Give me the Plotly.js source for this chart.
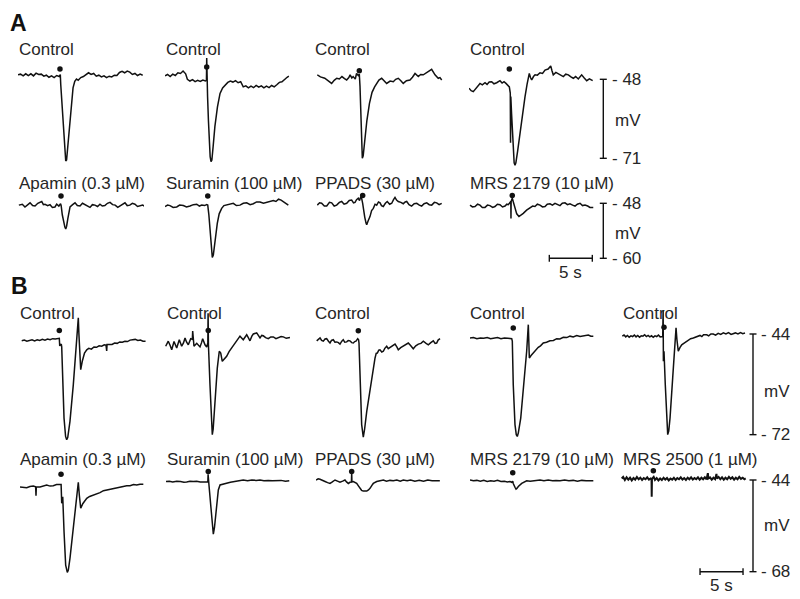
<!DOCTYPE html>
<html><head><meta charset="utf-8">
<script src="https://cdn.plot.ly/plotly-3.0.1.min.js"></script>
<style>html,body{margin:0;padding:0;background:#fff}#chart{width:800px;height:599px}</style>
</head><body><div id="chart"></div>
<script>
// ---------------- DATA (time in s, membrane potential in mV) ----------------
// Panel A, row 1 (Control)
const tA1c1=[0,0.3,0.6,0.9,1.2,1.5,1.8,2.1,2.4,2.7,3.0,3.3,3.6,3.9,4.2,4.5,4.8,4.92,4.97,5.05,5.15,5.3,5.45,5.55,5.65,5.8,6.0,6.2,6.4,6.6,6.8,7.0,7.3,7.6,7.9,8.2,8.5,8.8,9.1,9.4,9.7,10.0,10.3,10.6,10.9,11.2,11.5,11.8,12.1,12.4,12.7,13.0,13.3,13.6,13.9,14.2,14.5];
const vA1c1=[-46.7,-46.5,-47.0,-46.4,-46.9,-46.4,-47.0,-46.2,-46.6,-46.5,-47.1,-46.8,-47.4,-47.0,-47.5,-46.9,-47.2,-46.6,-49.5,-52.5,-57.5,-63.5,-69.5,-71.8,-71.5,-67.5,-60.5,-54.5,-50.5,-48.6,-47.9,-48.3,-47.5,-47.2,-46.5,-46.1,-46.6,-46.3,-47.1,-46.8,-47.3,-47.0,-47.5,-47.1,-47.3,-46.8,-46.9,-46.0,-45.7,-46.1,-45.6,-45.9,-46.6,-46.3,-46.9,-46.5,-46.8];
const tA1c2=[0,0.3,0.6,0.9,1.2,1.5,1.8,2.1,2.4,2.6,2.9,3.2,3.5,3.8,4.1,4.4,4.7,4.82,4.85,4.88,4.95,5.05,5.15,5.25,5.35,5.45,5.6,5.8,6.1,6.4,6.7,7.0,7.3,7.6,7.9,8.2,8.5,8.8,9.1,9.4,9.7,10.0,10.3,10.6,10.9,11.2,11.5,11.8,12.1,12.4,12.7,13.0,13.3,13.6,13.9,14.2,14.4];
const vA1c2=[-47.0,-46.6,-47.2,-46.5,-46.9,-46.1,-46.3,-45.6,-46.4,-48.0,-48.5,-48.1,-48.7,-48.3,-48.6,-48.2,-48.5,-48.3,-41.8,-48.5,-53,-60,-66,-70.5,-72.0,-71.5,-67.5,-61.8,-56,-52.1,-50.5,-49.6,-48.9,-48.5,-48.8,-48.4,-49.0,-48.7,-50.2,-49.9,-50.5,-50.0,-50.4,-49.8,-50.3,-49.9,-50.5,-50.0,-50.4,-49.8,-50.2,-49.6,-48.9,-48.7,-47.9,-47.4,-47.1];
const tA1c3=[0.03,0.4,0.9,1.3,1.7,2.0,2.3,2.6,2.9,3.2,3.45,3.7,3.85,4.05,4.2,4.45,4.6,4.8,4.92,5.0,5.08,5.17,5.27,5.37,5.55,5.8,6.1,6.4,6.7,6.94,7.2,7.52,7.8,8.1,8.5,8.87,9.15,9.45,9.75,10.03,10.4,10.81,11.1,11.4,11.78,12.05,12.36,12.65,12.94,13.33,13.6,13.72,14.1,14.3,14.5];
const vA1c3=[-46.7,-47.3,-47.7,-48.5,-49.2,-48.3,-47.7,-47.9,-47.2,-47.8,-48.2,-47.5,-46.7,-47.6,-47.2,-47.9,-46.3,-46.9,-46.5,-50,-58,-66,-71.0,-70.3,-66,-60,-55,-51.8,-50.2,-49.2,-48.2,-47.7,-48.3,-49.2,-48.5,-48.7,-48.0,-47.7,-48.4,-49.2,-48.4,-48.2,-47.4,-46.3,-47.2,-46.6,-46.7,-46.2,-45.8,-45.1,-46.2,-46.7,-47.7,-47.5,-48.2];
const tA1c4=[0,0.25,0.5,0.8,1.05,1.28,1.55,1.86,2.1,2.35,2.64,2.9,3.22,3.4,3.6,3.85,4.07,4.3,4.57,4.69,4.8,4.83,4.86,4.95,5.05,5.15,5.25,5.35,5.45,5.65,5.93,6.2,6.51,6.75,7.01,7.15,7.29,7.5,7.68,7.95,8.26,8.55,8.84,9.2,9.5,9.65,9.8,10.1,10.38,10.65,10.97,11.25,11.55,11.85,12.13,12.4,12.71,12.9,13.1,13.4,13.69,14.0,14.38];
const vA1c4=[-50.6,-51.3,-51.6,-50.6,-49.9,-49.2,-49.6,-49.0,-49.5,-48.8,-48.7,-49.3,-49.0,-48.6,-48.4,-49.1,-48.7,-49.2,-50.0,-50.2,-52,-66.5,-53,-58,-64,-69.5,-72.3,-73.0,-72.3,-69,-63.7,-58,-53.1,-49.5,-46.3,-47.5,-48.2,-47.2,-46.7,-46.8,-46.1,-46.3,-45.3,-45.0,-44.1,-45.5,-46.7,-46.0,-46.4,-46.9,-47.2,-46.5,-46.7,-47.3,-47.7,-47.2,-47.9,-47.3,-46.7,-47.6,-48.4,-47.9,-48.4];
// Panel A, row 2 (antagonists)
const tA2c1=[0.1,0.5,0.81,1.1,1.4,1.7,1.98,2.3,2.76,2.95,3.14,3.45,3.72,4.0,4.3,4.5,4.75,4.95,5.02,5.15,5.3,5.45,5.55,5.65,5.8,5.95,6.05,6.35,6.63,6.9,7.21,7.5,7.79,8.1,8.37,8.65,8.95,9.25,9.53,9.8,10.1,10.4,10.7,11.0,11.3,11.6,11.86,12.15,12.44,12.7,13.0,13.3,13.6,13.9,14.19,14.5,14.69];
const vA2c1=[-48.4,-48.2,-48.8,-48.3,-47.9,-48.5,-48.6,-48.0,-47.6,-48.3,-48.2,-48.5,-48.3,-48.9,-48.8,-48.2,-48.6,-48.1,-48.5,-50.5,-52.0,-53.2,-53.6,-53.0,-51.3,-49.6,-48.8,-48.3,-47.9,-48.5,-48.6,-48.0,-48.3,-48.8,-48.9,-48.3,-48.4,-48.7,-48.2,-48.6,-48.5,-48.0,-47.8,-48.3,-48.4,-48.9,-48.6,-48.1,-47.9,-48.5,-48.4,-48.0,-48.2,-48.7,-48.5,-48.4,-48.6];
const tA2c2=[0,0.3,0.58,0.95,1.36,1.7,2.13,2.5,2.91,3.3,3.69,4.0,4.27,4.6,4.85,4.97,5.1,5.23,5.38,5.5,5.62,5.81,6.08,6.3,6.59,6.85,7.17,7.55,7.94,8.3,8.72,9.1,9.5,9.9,10.27,10.65,11.05,11.45,11.83,12.2,12.6,12.9,13.2,13.5,13.76,14.05,14.34];
const vA2c2=[-48.7,-48.4,-48.5,-48.9,-48.8,-48.4,-48.5,-48.8,-48.6,-48.3,-48.2,-48.6,-48.4,-48.5,-48.3,-48.4,-50.5,-53.8,-57.5,-59.8,-59.3,-56.0,-52.4,-50.3,-49.1,-48.5,-48.4,-48.2,-48.0,-48.5,-48.4,-48.0,-47.9,-48.3,-48.1,-47.7,-47.7,-48.0,-47.8,-47.5,-47.4,-47.6,-47.1,-47.3,-47.7,-48.1,-48.4];
const tA2c3=[0.03,0.3,0.54,0.85,1.13,1.45,1.71,2.0,2.29,2.6,2.87,3.15,3.45,3.75,4.03,4.25,4.42,4.6,4.8,4.95,5.08,5.2,5.31,5.38,5.55,5.7,5.78,5.95,6.16,6.35,6.55,6.75,6.94,7.15,7.33,7.5,7.71,7.95,8.17,8.45,8.69,8.9,9.07,9.25,9.45,9.75,10.03,10.25,10.43,10.7,11.0,11.3,11.6,11.9,12.17,12.45,12.76,13.05,13.34,13.65,13.92,14.2,14.5];
const vA2c3=[-48.4,-47.9,-48.0,-48.6,-48.6,-47.8,-47.9,-48.6,-48.4,-47.8,-47.6,-48.2,-48.0,-47.4,-47.3,-47.9,-47.8,-47.2,-46.9,-47.4,-46.6,-47.0,-48.0,-49.1,-51.0,-52.3,-52.7,-51.8,-50.9,-49.6,-49.1,-48.2,-48.4,-47.7,-47.9,-48.5,-48.7,-48.0,-47.6,-48.2,-48.0,-47.2,-46.7,-47.3,-47.6,-47.8,-48.1,-47.7,-47.6,-48.3,-48.6,-48.1,-48.0,-48.4,-48.6,-48.1,-47.9,-48.3,-48.4,-47.8,-47.9,-48.3,-48.0];
const tA2c4=[0.12,0.4,0.7,1.0,1.28,1.55,1.86,2.15,2.44,2.75,3.02,3.3,3.6,3.9,4.19,4.4,4.57,4.75,4.86,4.88,4.9,5.03,5.2,5.35,5.55,5.81,6.05,6.31,6.7,7.09,7.4,7.67,7.95,8.26,8.55,8.84,9.1,9.42,9.7,10.0,10.3,10.58,10.85,11.16,11.45,11.74,12.05,12.33,12.6,12.91,13.2,13.49,13.8,14.07,14.45];
const vA2c4=[-48.4,-48.8,-48.7,-48.2,-48.4,-48.9,-48.9,-48.4,-48.5,-48.9,-48.7,-48.2,-48.3,-48.8,-48.6,-48.2,-48.3,-47.9,-47.6,-51.3,-47.6,-46.9,-47.9,-49.1,-50.3,-50.9,-50.6,-50.2,-49.5,-49.1,-48.6,-48.7,-48.2,-48.4,-48.8,-48.7,-48.2,-48.1,-48.4,-48.0,-48.3,-48.5,-48.0,-47.9,-48.3,-48.1,-48.4,-48.6,-48.2,-48.0,-48.5,-48.4,-48.6,-48.9,-48.9];
// Panel B, row 1 (Control)
const tB1c1=[0.2,0.5,0.8,1.1,1.4,1.7,2.0,2.3,2.6,2.9,3.2,3.5,3.8,4.1,4.45,4.57,4.62,4.72,4.8,4.85,4.97,5.12,5.3,5.43,5.55,5.81,6.2,6.59,6.74,6.78,6.85,6.95,7.06,7.25,7.5,7.76,8.0,8.3,8.6,8.9,9.2,9.5,9.8,10.0,10.08,10.12,10.4,10.7,11.0,11.3,11.6,11.9,12.2,12.5,12.8,13.14,13.4,13.7,14.0,14.3,14.6];
const vB1c1=[-45.9,-45.7,-46.0,-45.8,-45.6,-45.9,-45.6,-45.8,-45.5,-45.7,-45.4,-45.6,-45.3,-45.4,-45.1,-45.2,-47.3,-47.0,-46.8,-47.6,-58.1,-67.4,-72.5,-73.4,-72.8,-68.3,-58.1,-47.0,-42,-39.5,-44,-50,-53.9,-51.5,-49.3,-48.4,-48.0,-48.2,-47.6,-47.7,-47.3,-47.4,-47.0,-47.1,-48.7,-46.9,-46.8,-46.9,-46.5,-46.6,-46.2,-46.3,-46.0,-46.1,-45.7,-45.6,-45.5,-45.8,-45.7,-46.0,-46.0];
const tB1c2=[0.08,0.38,0.6,0.78,1.05,1.2,1.36,1.66,1.94,2.15,2.33,2.5,2.71,2.99,3.18,3.22,3.27,3.37,3.69,3.9,4.07,4.25,4.38,4.65,4.85,4.98,5.01,5.05,5.23,5.4,5.5,5.6,5.81,6.08,6.31,6.48,6.66,6.9,7.17,7.45,7.76,8.05,8.34,8.5,8.72,9.1,9.3,9.5,9.7,9.88,10.1,10.27,10.66,10.85,11.05,11.25,11.43,11.7,12.01,12.3,12.6,12.9,13.17,13.5,13.76,14.1,14.53];
const vB1c2=[-47.4,-46.0,-47.2,-48.4,-46.1,-47.0,-47.9,-45.6,-47.4,-46.5,-45.1,-46.2,-47.0,-45.3,-45.5,-43.2,-46.0,-47.4,-46.6,-47.2,-47.6,-46.4,-45.3,-47.0,-47.6,-46.5,-38.2,-47,-58.1,-68.5,-72.0,-70.5,-62.7,-53.5,-48.8,-49.3,-51.6,-51.0,-50.2,-48.9,-47.9,-46.7,-46.0,-45.2,-44.6,-45.6,-44.8,-44.2,-45.1,-45.9,-44.6,-44.0,-43.7,-44.5,-45.1,-44.4,-44.5,-45.0,-45.3,-44.8,-44.8,-45.3,-45.1,-44.7,-44.8,-45.2,-45.0];
const tB1c3=[0.08,0.3,0.47,0.65,0.85,1.05,1.24,1.45,1.63,1.8,2.01,2.2,2.41,2.6,2.79,3.0,3.17,3.35,3.57,3.75,3.95,4.15,4.34,4.5,4.65,4.85,4.95,5.0,5.12,5.31,5.5,5.65,5.9,6.36,6.86,7.0,7.13,7.3,7.44,7.65,7.83,8.0,8.22,8.4,8.6,8.9,9.19,9.4,9.57,9.85,10.15,10.45,10.73,11.0,11.31,11.6,11.9,12.2,12.48,12.8,13.06,13.35,13.64,13.85,14.03,14.2,14.42];
const vB1c3=[-45.9,-45.5,-45.1,-45.8,-46.0,-45.4,-45.3,-46.0,-46.5,-45.8,-45.6,-46.3,-46.2,-46.4,-46.8,-46.0,-45.6,-46.3,-46.2,-45.8,-45.9,-46.4,-46.5,-46.1,-46.0,-45.3,-45.6,-46.5,-58.1,-69.2,-72.7,-70.5,-65.5,-58.1,-50.7,-49.4,-49.3,-48.5,-48.4,-49.0,-48.8,-48.0,-47.4,-48.1,-47.8,-47.4,-46.8,-47.6,-48.4,-47.8,-47.4,-46.9,-46.5,-47.2,-48.1,-47.3,-46.8,-46.6,-46.0,-46.6,-47.0,-46.4,-45.9,-46.6,-46.5,-45.7,-45.3];
const tB1c4=[0,0.4,0.8,1.2,1.6,2.0,2.4,2.8,3.2,3.6,4.0,4.4,4.85,4.92,5.03,5.23,5.38,5.5,5.62,5.9,6.28,6.59,6.7,6.78,6.84,6.9,7.1,7.36,7.65,7.94,8.2,8.52,8.9,9.3,9.7,10.08,10.45,10.85,11.25,11.63,12.0,12.41,12.8,13.17,13.5,13.76,14.05,14.34];
const vB1c4=[-45.1,-45.0,-45.3,-45.1,-45.2,-45.0,-45.3,-45.2,-45.0,-45.3,-45.1,-45.2,-45.3,-46.0,-58.1,-69.2,-72.0,-72.5,-71.5,-67.4,-58.1,-48.8,-44.5,-41.4,-46,-50.7,-50.0,-49.3,-48.4,-47.7,-47.3,-46.5,-46.3,-45.9,-45.8,-45.3,-45.4,-44.9,-45.0,-44.6,-44.8,-44.4,-44.7,-44.6,-44.4,-44.3,-44.6,-44.6];
const tB1c5=[0.15,0.35,0.55,0.75,0.95,1.15,1.35,1.55,1.75,1.95,2.15,2.35,2.55,2.75,2.95,3.15,3.35,3.55,3.75,3.95,4.15,4.35,4.55,4.75,4.85,4.9,4.93,4.96,5.0,5.15,5.31,5.43,5.55,5.7,6.01,6.28,6.4,6.5,6.66,6.85,7.06,7.3,7.64,7.85,8.1,8.41,8.7,9.0,9.19,9.4,9.6,9.97,10.2,10.45,10.73,11.0,11.3,11.6,11.9,12.2,12.5,12.8,13.06,13.3,13.6,13.9,14.15,14.42];
const vB1c5=[-44.6,-44.3,-44.8,-44.4,-44.9,-44.5,-44.7,-44.3,-44.8,-44.4,-44.9,-44.5,-44.6,-44.2,-44.7,-44.4,-44.8,-44.5,-44.9,-44.5,-44.7,-44.3,-44.8,-44.6,-44.7,-37.3,-51.6,-45.5,-48.8,-58.1,-67.4,-72.0,-71.0,-67.4,-56.2,-47.0,-42.3,-45.5,-48.8,-47.8,-47.0,-46.6,-46.0,-45.8,-45.3,-45.1,-44.9,-44.6,-44.4,-44.7,-44.2,-44.2,-44.5,-44.0,-44.0,-44.3,-43.8,-44.1,-43.7,-44.0,-43.6,-44.1,-44.0,-43.7,-44.0,-43.6,-43.9,-43.7];
// Panel B, row 2 (antagonists)
const tB2c1=[0,0.4,0.78,1.15,1.55,1.82,1.86,1.9,2.33,2.7,3.1,3.5,3.87,4.25,4.65,4.78,4.85,4.97,5.12,5.31,5.5,5.62,5.81,6.2,6.59,6.78,6.9,7.06,7.3,7.55,7.76,8.1,8.5,8.92,9.3,9.7,10.08,10.45,10.85,11.24,11.6,12.0,12.41,12.8,13.2,13.57,13.95,14.34];
const vB2c1=[-45.8,-45.9,-46.0,-45.7,-45.6,-45.8,-48.1,-45.8,-45.8,-45.5,-45.3,-45.6,-45.5,-45.2,-45.1,-45.2,-50.1,-48.4,-57.5,-66.3,-68.2,-67.6,-64.5,-55.8,-47.9,-44.6,-48,-51.4,-50.2,-49.3,-48.8,-48.3,-48.0,-47.5,-47.3,-46.8,-46.6,-46.5,-46.2,-46.0,-45.9,-45.6,-45.5,-45.5,-45.2,-45.3,-45.1,-45.1];
const tB2c2=[0.12,0.5,0.9,1.36,1.8,2.2,2.52,2.9,3.3,3.69,4.1,4.65,4.98,5.01,5.05,5.12,5.35,5.5,5.62,5.75,5.93,6.2,6.4,6.8,7.17,7.6,8.1,8.6,9.1,9.6,10.1,10.6,11.05,11.5,12.0,12.5,12.99,13.5,14.0,14.45];
const vB2c2=[-44.4,-44.3,-44.5,-44.3,-44.4,-44.6,-44.5,-44.3,-44.4,-44.3,-44.5,-44.4,-44.5,-42.5,-44.6,-45.5,-51.4,-56.5,-58.2,-56.5,-52.3,-46.6,-45.3,-45.0,-44.9,-44.6,-44.4,-44.2,-44.0,-44.2,-44.0,-44.1,-44.0,-44.2,-44.1,-44.2,-44.2,-44.1,-44.3,-44.2];
const tB2c3=[0,0.25,0.47,0.75,1.05,1.35,1.63,1.9,2.21,2.5,2.79,3.1,3.37,3.55,3.76,3.95,4.12,4.15,4.18,4.34,4.55,4.73,4.95,5.12,5.3,5.5,5.7,5.9,6.1,6.28,6.5,6.66,7.06,7.45,7.83,8.2,8.6,8.99,9.4,9.8,10.15,10.6,11.0,11.5,12.0,12.5,13.0,13.5,14.0,14.4];
const vB2c3=[-44.0,-43.7,-43.8,-44.2,-44.4,-44.7,-44.9,-44.5,-44.0,-44.3,-44.6,-44.3,-44.0,-44.5,-44.9,-44.6,-44.5,-42.2,-44.5,-44.4,-44.6,-44.9,-45.6,-46.2,-46.7,-46.9,-47.0,-46.9,-46.6,-46.2,-45.4,-44.9,-44.4,-44.2,-44.0,-44.3,-44.1,-44.2,-44.0,-44.3,-44.0,-44.2,-44.0,-44.3,-44.1,-44.3,-44.0,-44.2,-44.1,-44.2];
const tB2c4=[0,0.4,0.8,1.2,1.6,2.0,2.4,2.8,3.2,3.6,4.0,4.35,4.65,4.85,4.97,5.03,5.23,5.35,5.45,5.62,6.01,6.3,6.59,7.0,7.5,8.14,8.6,9.1,9.6,10.0,10.47,11.0,11.5,12.0,12.5,13.0,13.5,14.0,14.34];
const vB2c4=[-44.0,-44.2,-44.1,-44.3,-44.1,-44.4,-44.2,-44.3,-44.1,-44.4,-44.3,-44.5,-44.4,-44.6,-44.3,-44.9,-45.9,-46.4,-46.2,-45.7,-44.9,-44.5,-44.2,-44.3,-44.1,-44.0,-44.2,-44.0,-44.2,-44.1,-44.2,-44.0,-44.2,-44.1,-44.3,-44.1,-44.2,-44.1,-44.2];
const tB2c5=[0.08,0.25,0.45,0.65,0.85,1.05,1.25,1.45,1.65,1.85,2.05,2.25,2.45,2.65,2.85,3.05,3.25,3.45,3.55,3.57,3.6,3.8,3.95,4.15,4.35,4.55,4.75,4.95,5.15,5.35,5.55,5.75,5.95,6.15,6.35,6.55,6.75,6.95,7.15,7.35,7.55,7.75,7.95,8.15,8.35,8.55,8.75,8.95,9.15,9.35,9.55,9.75,9.95,10.1,10.15,10.35,10.55,10.75,10.95,11.1,11.15,11.35,11.55,11.75,11.95,12.15,12.35,12.55,12.75,12.95,13.15,13.35,13.55,13.75,13.95,14.15,14.35,14.5];
const vB2c5=[-43.6,-43.2,-44.0,-43.3,-43.9,-43.4,-44.1,-43.5,-43.9,-43.2,-43.8,-43.4,-44.0,-43.5,-43.8,-43.3,-43.9,-43.6,-43.8,-48.4,-43.7,-43.2,-44.0,-43.5,-44.1,-43.6,-44.0,-43.4,-43.9,-43.5,-44.1,-43.6,-43.9,-43.4,-44.0,-43.5,-43.8,-43.3,-43.9,-43.5,-44.0,-43.4,-43.8,-43.3,-43.9,-43.5,-43.8,-43.3,-43.9,-43.4,-43.8,-43.3,-43.8,-42.2,-43.6,-43.3,-43.9,-43.4,-43.8,-42.4,-43.6,-43.2,-43.8,-43.3,-43.9,-43.4,-43.8,-43.2,-43.7,-43.3,-43.9,-43.4,-43.8,-43.2,-43.7,-43.4,-43.8,-43.6];

// stimulus markers (time s, mV) per row
const dotTA1=[4.88,4.85,4.92,4.69], dotVA1=[-45.0,-44.4,-45.5,-45.0];
const dotTA2=[5.0,4.97,5.31,5.03],  dotVA2=[-46.4,-46.4,-46.3,-46.3];
const dotTB1=[4.57,5.03,4.92,5.03,5.0], dotVB1=[-43.0,-43.0,-43.1,-42.3,-42.1];
const dotTB2=[4.77,5.03,4.15,4.97,3.76], dotVB2=[-42.5,-41.8,-41.8,-42.1,-41.6];

// labels
const labelsA1=['Control','Control','Control','Control'];
const labelsA2=['Apamin (0.3 µM)','Suramin (100 µM)','PPADS (30 µM)','MRS 2179 (10 µM)'];
const labelsB1=['Control','Control','Control','Control','Control'];
const labelsB2=['Apamin (0.3 µM)','Suramin (100 µM)','PPADS (30 µM)','MRS 2179 (10 µM)','MRS 2500 (1 µM)'];
// scale bars (mV)
const scaleA1=[-48,-71], scaleA2=[-48,-60], scaleB1=[-44,-72], scaleB2=[-44,-68];
const timeBar=5; // s
const panelLetters=['A','B'];

// ---------------- LAYOUT (pixel geometry) ----------------
const W=800,H=599, PXS=8.6, COLW=126;
const colX0A=[18,165,317,469], colX0B=[20,165,316,470,621];
const labelXA=[18,165,314,469], labelXB=[19,165.5,314,469,621.5];
// row: pixel extent of axis, reference (mV at pixel) and px per mV
const rows=[
 {top:40,bot:180,v0:-48,p0:79.3,k:3.435, labelY:49},
 {top:188,bot:268,v0:-48,p0:203.3,k:4.583, labelY:183},
 {top:298,bot:452,v0:-44,p0:334,k:3.595, labelY:313},
 {top:462,bot:585,v0:-44,p0:480,k:3.82, labelY:459.7}
];
const vAt=(r,py)=>r.v0-(py-r.p0)/r.k;
const px=x=>x/W, py=y=>1-y/H;
const INK='#111', TXT='#262626', FONT='Liberation Sans, Arial, sans-serif';

const layout={width:W,height:H,margin:{l:0,r:0,t:0,b:0},paper_bgcolor:'#fff',plot_bgcolor:'rgba(0,0,0,0)',showlegend:false,shapes:[],annotations:[]};
const allX0=colX0A.concat(colX0B);
allX0.forEach((x0,i)=>{
  const key=i===0?'xaxis':'xaxis'+(i+1);
  layout[key]={domain:[px(x0),px(x0+COLW)],range:[0,COLW/PXS],visible:false,fixedrange:true,anchor:'free',position:0};
});
rows.forEach((r,i)=>{
  const key=i===0?'yaxis':'yaxis'+(i+1);
  layout[key]={domain:[py(r.bot),py(r.top)],range:[vAt(r,r.bot),vAt(r,r.top)],visible:false,fixedrange:true,anchor:'free',position:0};
});
const xid=i=>i===0?'x':'x'+(i+1), yid=i=>i===0?'y':'y'+(i+1);

const series=[
 [tA1c1,vA1c1,0,0],[tA1c2,vA1c2,1,0],[tA1c3,vA1c3,2,0],[tA1c4,vA1c4,3,0],
 [tA2c1,vA2c1,0,1],[tA2c2,vA2c2,1,1],[tA2c3,vA2c3,2,1],[tA2c4,vA2c4,3,1],
 [tB1c1,vB1c1,4,2],[tB1c2,vB1c2,5,2],[tB1c3,vB1c3,6,2],[tB1c4,vB1c4,7,2],[tB1c5,vB1c5,8,2],
 [tB2c1,vB2c1,4,3],[tB2c2,vB2c2,5,3],[tB2c3,vB2c3,6,3],[tB2c4,vB2c4,7,3],[tB2c5,vB2c5,8,3]
];
const traces=[];
series.forEach(([t,v,c,r],i)=>{
  traces.push({x:t,y:v,xaxis:xid(c),yaxis:yid(r),type:'scatter',mode:'lines',
    line:{color:INK,width:(i===17?2.0:1.5)},hoverinfo:'skip'});
});
const dots=[[dotTA1,dotVA1,0,0],[dotTA2,dotVA2,0,1],[dotTB1,dotVB1,4,2],[dotTB2,dotVB2,4,3]];
dots.forEach(([ts,vs,c0,r])=>{
  ts.forEach((t,j)=>{
    traces.push({x:[t],y:[vs[j]],xaxis:xid(c0+j),yaxis:yid(r),type:'scatter',mode:'markers',
      marker:{color:INK,size:5.5},hoverinfo:'skip',cliponaxis:false});
  });
});

// condition labels
function addLabel(text,x,y,size,bold){
  layout.annotations.push({text:bold?'<b>'+text+'</b>':text,xref:'paper',yref:'paper',x:px(x),y:py(y),
    xanchor:'left',yanchor:'middle',showarrow:false,font:{family:FONT,size:size,color:bold?'#111':TXT},borderpad:0});
}
labelsA1.forEach((s,i)=>addLabel(s,labelXA[i],rows[0].labelY,17));
labelsA2.forEach((s,i)=>addLabel(s,labelXA[i],rows[1].labelY,17));
labelsB1.forEach((s,i)=>addLabel(s,labelXB[i],rows[2].labelY,17));
labelsB2.forEach((s,i)=>addLabel(s,labelXB[i],rows[3].labelY,17));
addLabel(panelLetters[0],9,23,23,true);
addLabel(panelLetters[1],10,286,23,true);

// vertical mV scale bars
function vbar(row,vals,xpx,txtX,mvY){
  const yr=yid(row);
  layout.shapes.push({type:'line',xref:'paper',yref:yr,x0:px(xpx),x1:px(xpx),y0:vals[0],y1:vals[1],line:{color:INK,width:1.4}});
  vals.forEach(v=>{
    layout.shapes.push({type:'line',xref:'paper',yref:yr,x0:px(xpx-3.5),x1:px(xpx+3.5),y0:v,y1:v,line:{color:INK,width:1.4}});
    layout.annotations.push({text:'- '+Math.abs(v),xref:'paper',yref:yr,x:px(txtX),y:v,xanchor:'left',yanchor:'middle',
      showarrow:false,borderpad:0,font:{family:FONT,size:17,color:TXT}});
  });
  layout.annotations.push({text:'mV',xref:'paper',yref:yr,x:px(txtX+3),y:mvY,xanchor:'left',yanchor:'middle',
    showarrow:false,borderpad:0,font:{family:FONT,size:17,color:TXT}});
}
vbar(0,scaleA1,603.3,611,-60);
vbar(1,scaleA2,603.3,611,-54.5);
vbar(2,scaleB1,753,760,-60);
vbar(3,scaleB2,753,760,-56);

// time scale bars
function hbar(col,row,t0,v,capMv,labelY){
  const xr=xid(col), yr=yid(row);
  layout.shapes.push({type:'line',xref:xr,yref:yr,x0:t0,x1:t0+timeBar,y0:v,y1:v,line:{color:INK,width:1.4}});
  [t0,t0+timeBar].forEach(t=>layout.shapes.push({type:'line',xref:xr,yref:yr,x0:t,x1:t,y0:v-capMv,y1:v+capMv,line:{color:INK,width:1.4}}));
  layout.annotations.push({text:timeBar+' s',xref:xr,yref:'paper',x:t0+timeBar/2,y:py(labelY),xanchor:'center',yanchor:'middle',
    showarrow:false,borderpad:0,font:{family:FONT,size:17,color:TXT}});
}
hbar(3,1,9.34,scaleA2[1],0.75,272.5);
hbar(8,3,9.19,scaleB2[1],0.9,585);

Plotly.newPlot('chart',traces,layout,{staticPlot:true,displayModeBar:false});
</script></body></html>
